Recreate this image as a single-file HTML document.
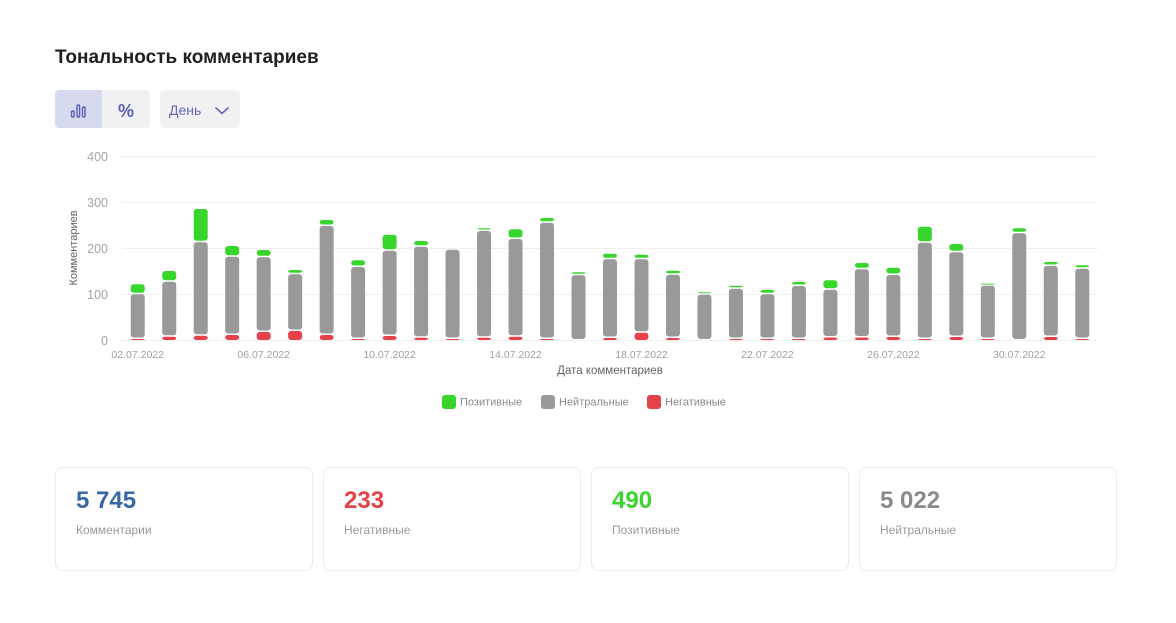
<!DOCTYPE html>
<html>
<head>
<meta charset="utf-8">
<style>
html,body{margin:0;padding:0;background:#fff;}
body{width:1176px;height:623px;position:relative;overflow:hidden;font-family:"Liberation Sans","Noto Sans CJK SC",sans-serif;}
.abs{position:absolute;}
.title{left:55px;top:47px;font-size:19px;font-weight:bold;color:#1f1f1f;white-space:nowrap;}
.grp{left:55px;top:90px;width:95px;height:38px;border-radius:4px;overflow:hidden;background:#f1f1f4;}
.seg1{left:0;top:0;width:47px;height:38px;background:#d7daee;}
.dd{left:160px;top:90px;width:80px;height:38px;border-radius:4px;background:#f1f1f4;}
.card{width:256px;height:102px;border:1px solid #ececec;border-radius:8px;background:#fff;top:467px;box-shadow:0 0 2px rgba(0,0,0,0.02);}
.num{position:absolute;left:20px;top:19px;font-size:24px;font-weight:bold;line-height:28px;white-space:nowrap;}
.lbl{position:absolute;left:20px;top:55px;font-size:12px;color:#9a9a9a;line-height:14px;white-space:nowrap;}
</style>
</head>
<body>
<div class="abs title">Тональность комментариев</div>

<div class="abs grp">
  <div class="abs seg1"></div>
  <svg class="abs" style="left:0;top:0" width="95" height="38">
    <rect x="16.5" y="21" width="2.6" height="6" rx="1.3" fill="none" stroke="#5c60b3" stroke-width="1.4"/>
    <rect x="22" y="15" width="2.6" height="12" rx="1.3" fill="none" stroke="#5c60b3" stroke-width="1.4"/>
    <rect x="27.5" y="17" width="2.6" height="10" rx="1.3" fill="none" stroke="#5c60b3" stroke-width="1.4"/>
    <text x="71" y="27" font-family="Liberation Sans, sans-serif" font-size="18" font-weight="bold" fill="#5c60b3" text-anchor="middle">%</text>
  </svg>
</div>
<div class="abs dd">
  <svg class="abs" style="left:0;top:0" width="80" height="38">
    <text x="9" y="25" font-family="Liberation Sans, sans-serif" font-size="14" fill="#6266b5">День</text>
    <polyline points="56,18 62,23.5 68,18" fill="none" stroke="#6266b5" stroke-width="1.6" stroke-linecap="round" stroke-linejoin="round"/>
  </svg>
</div>

<svg class="abs" style="left:0;top:0" width="1176" height="430" font-family="Liberation Sans, sans-serif">
  <g stroke="#efefef" stroke-width="1">
    <line x1="122" y1="156.5" x2="1098" y2="156.5"/>
    <line x1="122" y1="202.5" x2="1098" y2="202.5"/>
    <line x1="122" y1="248.5" x2="1098" y2="248.5"/>
    <line x1="122" y1="294.5" x2="1098" y2="294.5"/>
    <line x1="122" y1="340.5" x2="1098" y2="340.5"/>
  </g>
  <g fill="#a3a3a3" font-size="12.5" text-anchor="end">
    <text x="108" y="161">400</text>
    <text x="108" y="207">300</text>
    <text x="108" y="253">200</text>
    <text x="108" y="299">100</text>
    <text x="108" y="345">0</text>
  </g>
  <text transform="translate(77,248) rotate(-90)" text-anchor="middle" font-size="11" fill="#666">Комментариев</text>
  <g fill="#a0a0a0" font-size="10.5" text-anchor="middle">
    <text x="137.7" y="358">02.07.2022</text>
    <text x="263.7" y="358">06.07.2022</text>
    <text x="389.6" y="358">10.07.2022</text>
    <text x="515.5" y="358">14.07.2022</text>
    <text x="641.5" y="358">18.07.2022</text>
    <text x="767.4" y="358">22.07.2022</text>
    <text x="893.4" y="358">26.07.2022</text>
    <text x="1019.3" y="358">30.07.2022</text>
  </g>
  <text x="610" y="374" text-anchor="middle" font-size="11.5" fill="#666">Дата комментариев</text>

  <!-- red -->
  <g fill="#e5414a">
    <rect x="130.74" y="339" width="14" height="1" rx="3"/>
    <rect x="162.23" y="336.7" width="14" height="3.3" rx="3"/>
    <rect x="193.71" y="335.7" width="14" height="4.3" rx="3"/>
    <rect x="225.19" y="335" width="14" height="5" rx="3"/>
    <rect x="256.68" y="332" width="14" height="8" rx="3"/>
    <rect x="288.16" y="331" width="14" height="9" rx="3"/>
    <rect x="319.65" y="335" width="14" height="5" rx="3"/>
    <rect x="351.13" y="339" width="14" height="1" rx="3"/>
    <rect x="382.61" y="336" width="14" height="4" rx="3"/>
    <rect x="414.10" y="337.7" width="14" height="2.3" rx="3"/>
    <rect x="445.58" y="339" width="14" height="1" rx="3"/>
    <rect x="477.06" y="337.7" width="14" height="2.3" rx="3"/>
    <rect x="508.55" y="336.7" width="14" height="3.3" rx="3"/>
    <rect x="540.03" y="339" width="14" height="1" rx="3"/>
    <rect x="603.00" y="338" width="14" height="2" rx="3"/>
    <rect x="634.48" y="332.7" width="14" height="7.3" rx="3"/>
    <rect x="665.97" y="338" width="14" height="2" rx="3"/>
    <rect x="728.94" y="339" width="14" height="1" rx="3"/>
    <rect x="760.42" y="339" width="14" height="1" rx="3"/>
    <rect x="791.90" y="339" width="14" height="1" rx="3"/>
    <rect x="823.39" y="337.5" width="14" height="2.5" rx="3"/>
    <rect x="854.87" y="337.5" width="14" height="2.5" rx="3"/>
    <rect x="886.35" y="337" width="14" height="3" rx="3"/>
    <rect x="917.84" y="339" width="14" height="1" rx="3"/>
    <rect x="949.32" y="337" width="14" height="3" rx="3"/>
    <rect x="980.81" y="339" width="14" height="1" rx="3"/>
    <rect x="1043.77" y="337" width="14" height="3" rx="3"/>
    <rect x="1075.26" y="339" width="14" height="1" rx="3"/>
  </g>
  <!-- gray -->
  <g fill="#999999">
    <rect x="130.74" y="294.3" width="14" height="43.2" rx="3"/>
    <rect x="162.23" y="281.7" width="14" height="53.5" rx="3"/>
    <rect x="193.71" y="242.3" width="14" height="91.9" rx="3"/>
    <rect x="225.19" y="256.7" width="14" height="76.8" rx="3"/>
    <rect x="256.68" y="257.3" width="14" height="73.2" rx="3"/>
    <rect x="288.16" y="274.3" width="14" height="55.2" rx="3"/>
    <rect x="319.65" y="226" width="14" height="107.5" rx="3"/>
    <rect x="351.13" y="267" width="14" height="70.5" rx="3"/>
    <rect x="382.61" y="250.7" width="14" height="83.8" rx="3"/>
    <rect x="414.10" y="246.7" width="14" height="89.5" rx="3"/>
    <rect x="445.58" y="249.7" width="14" height="87.8" rx="3"/>
    <rect x="477.06" y="231" width="14" height="105.2" rx="3"/>
    <rect x="508.55" y="239" width="14" height="96.2" rx="3"/>
    <rect x="540.03" y="222.7" width="14" height="114.8" rx="3"/>
    <rect x="571.52" y="275.3" width="14" height="63.7" rx="3"/>
    <rect x="603.00" y="259.3" width="14" height="77.2" rx="3"/>
    <rect x="634.48" y="259.3" width="14" height="71.9" rx="3"/>
    <rect x="665.97" y="274.7" width="14" height="61.8" rx="3"/>
    <rect x="697.45" y="294.7" width="14" height="44.3" rx="3"/>
    <rect x="728.94" y="288.7" width="14" height="48.8" rx="3"/>
    <rect x="760.42" y="294.3" width="14" height="43.2" rx="3"/>
    <rect x="791.90" y="286" width="14" height="51.5" rx="3"/>
    <rect x="823.39" y="289.7" width="14" height="46.3" rx="3"/>
    <rect x="854.87" y="269.3" width="14" height="66.7" rx="3"/>
    <rect x="886.35" y="275" width="14" height="60.5" rx="3"/>
    <rect x="917.84" y="242.7" width="14" height="94.8" rx="3"/>
    <rect x="949.32" y="252.3" width="14" height="83.2" rx="3"/>
    <rect x="980.81" y="285.7" width="14" height="51.8" rx="3"/>
    <rect x="1012.29" y="233.3" width="14" height="105.7" rx="3"/>
    <rect x="1043.77" y="266" width="14" height="69.5" rx="3"/>
    <rect x="1075.26" y="268.7" width="14" height="68.8" rx="3"/>
  </g>
  <!-- green -->
  <g fill="#38d62c">
    <rect x="130.74" y="284.3" width="14" height="8.5" rx="3"/>
    <rect x="162.23" y="271" width="14" height="9.2" rx="3"/>
    <rect x="193.71" y="209" width="14" height="31.8" rx="3"/>
    <rect x="225.19" y="246" width="14" height="9.2" rx="3"/>
    <rect x="256.68" y="250" width="14" height="5.8" rx="3"/>
    <rect x="288.16" y="270" width="14" height="2.8" rx="3"/>
    <rect x="319.65" y="220" width="14" height="4.5" rx="3"/>
    <rect x="351.13" y="260.3" width="14" height="5.2" rx="3"/>
    <rect x="382.61" y="234.7" width="14" height="14.5" rx="3"/>
    <rect x="414.10" y="241" width="14" height="4.2" rx="3"/>
    <rect x="477.06" y="228.3" width="14" height="1.2" rx="3"/>
    <rect x="508.55" y="229.3" width="14" height="8.2" rx="3"/>
    <rect x="540.03" y="218" width="14" height="3.2" rx="3"/>
    <rect x="571.52" y="272.3" width="14" height="1.5" rx="3"/>
    <rect x="603.00" y="253.7" width="14" height="4.1" rx="3"/>
    <rect x="634.48" y="254.7" width="14" height="3.1" rx="3"/>
    <rect x="665.97" y="270.7" width="14" height="2.5" rx="3"/>
    <rect x="697.45" y="292.3" width="14" height="1" rx="3"/>
    <rect x="728.94" y="285.7" width="14" height="1.5" rx="3"/>
    <rect x="760.42" y="290" width="14" height="2.8" rx="3"/>
    <rect x="791.90" y="282" width="14" height="2.5" rx="3"/>
    <rect x="823.39" y="280.3" width="14" height="7.9" rx="3"/>
    <rect x="854.87" y="263" width="14" height="4.8" rx="3"/>
    <rect x="886.35" y="267.7" width="14" height="5.8" rx="3"/>
    <rect x="917.84" y="226.7" width="14" height="14.5" rx="3"/>
    <rect x="949.32" y="244" width="14" height="6.8" rx="3"/>
    <rect x="980.81" y="283.6" width="14" height="1" rx="3"/>
    <rect x="1012.29" y="228.3" width="14" height="3.5" rx="3"/>
    <rect x="1043.77" y="262" width="14" height="2.5" rx="3"/>
    <rect x="1075.26" y="265.3" width="14" height="1.9" rx="3"/>
  </g>

  <!-- legend -->
  <rect x="442" y="395" width="14" height="14" rx="3" fill="#38d62c"/>
  <text x="460" y="405.5" font-size="11" fill="#8a8a8a">Позитивные</text>
  <rect x="541" y="395" width="14" height="14" rx="3" fill="#999999"/>
  <text x="559" y="405.5" font-size="11" fill="#8a8a8a">Нейтральные</text>
  <rect x="647" y="395" width="14" height="14" rx="3" fill="#e5414a"/>
  <text x="665" y="405.5" font-size="11" fill="#8a8a8a">Негативные</text>
</svg>

<div class="abs card" style="left:55px;">
  <div class="num" style="color:#3868a4;">5 745</div>
  <div class="lbl">Комментарии</div>
</div>
<div class="abs card" style="left:323px;">
  <div class="num" style="color:#e5414a;">233</div>
  <div class="lbl">Негативные</div>
</div>
<div class="abs card" style="left:591px;">
  <div class="num" style="color:#3dd42e;">490</div>
  <div class="lbl">Позитивные</div>
</div>
<div class="abs card" style="left:859px;">
  <div class="num" style="color:#8a8a8a;">5 022</div>
  <div class="lbl">Нейтральные</div>
</div>
</body>
</html>
